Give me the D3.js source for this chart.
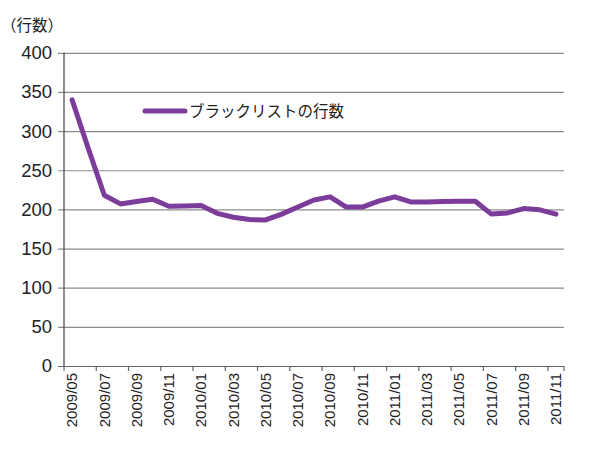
<!DOCTYPE html>
<html>
<head>
<meta charset="utf-8">
<script src="https://cdn.jsdelivr.net/npm/d3@7"></script>
<style>
  body { margin: 0; background: #fff; }
  svg { display: block; }
  .axis text { font-family: "Liberation Sans", Arial, sans-serif; fill: #222; }
</style>
</head>
<body>
<div id="chart"></div>
<script>
// months, 2009/05 .. 2011/11
const months = [
  '2009/05', '2009/06', '2009/07', '2009/08', '2009/09', '2009/10', '2009/11', '2009/12',
  '2010/01', '2010/02', '2010/03', '2010/04', '2010/05', '2010/06', '2010/07', '2010/08',
  '2010/09', '2010/10', '2010/11', '2010/12', '2011/01', '2011/02', '2011/03', '2011/04',
  '2011/05', '2011/06', '2011/07', '2011/08', '2011/09', '2011/10', '2011/11'
];
const blacklistRows = [
  340, 278, 218, 207, 210, 213, 204, 204.5, 205, 195, 190, 187, 186.5, 194, 203, 212,
  216, 203, 203, 210.5, 216, 209.5, 209.5, 210, 210.5, 210.5, 194, 195.5, 201, 199.5, 194
];
const yTicks = [0, 50, 100, 150, 200, 250, 300, 350, 400];
const seriesName = 'ブラックリストの行数';
const yUnit = '（行数）';

const width = 600;
const height = 450;
const margin = { top: 52.8, right: 36, bottom: 84, left: 64 };

const svg = d3.select('#chart').append('svg')
  .attr('width', width)
  .attr('height', height);

const x = d3.scaleBand()
  .domain(months)
  .range([margin.left, width - margin.right])
  .padding(0);

const y = d3.scaleLinear()
  .domain([0, 400])
  .range([height - margin.bottom, margin.top]);

// gridlines + y labels
const yAxis = svg.append('g')
  .attr('class', 'axis y')
  .attr('transform', `translate(${margin.left},0)`)
  .call(d3.axisLeft(y)
    .tickValues(yTicks)
    .tickSize(-(width - margin.right - margin.left))
    .tickSizeOuter(0)
    .tickPadding(12));
yAxis.select('.domain').remove();
yAxis.selectAll('.tick line')
  .attr('x1', -6)
  .attr('stroke', d => d === 0 ? '#666' : '#8c8c8c')
  .attr('stroke-width', 1.2);
yAxis.selectAll('.tick text')
  .attr('font-size', 18.5);

// y axis line
svg.append('line')
  .attr('x1', margin.left).attr('x2', margin.left)
  .attr('y1', y(400)).attr('y2', y(0))
  .attr('stroke', '#444')
  .attr('stroke-width', 1.2);

// x labels at category centres (every other month)
const xAxis = svg.append('g')
  .attr('class', 'axis x')
  .attr('transform', `translate(0,${y(0)})`)
  .call(d3.axisBottom(x)
    .tickValues(months.filter((d, i) => i % 2 === 0))
    .tickSize(0)
    .tickSizeOuter(0));
xAxis.select('.domain').remove();
xAxis.selectAll('.tick text')
  .attr('font-size', 15)
  .attr('transform', 'rotate(-90)')
  .attr('text-anchor', 'end')
  .attr('x', -7)
  .attr('y', 0)
  .attr('dy', '0.35em');

// x tick marks on category boundaries
const boundaries = months.filter((d, i) => i % 2 === 0).map(d => x(d));
boundaries.push(x.range()[1]);
svg.append('g')
  .selectAll('line')
  .data(boundaries)
  .enter().append('line')
    .attr('x1', d => d).attr('x2', d => d)
    .attr('y1', y(0)).attr('y2', y(0) + 5)
    .attr('stroke', '#666')
    .attr('stroke-width', 1.2);

// unit label
svg.append('text')
  .attr('x', 1)
  .attr('y', 31)
  .attr('font-family', '"Noto Sans CJK JP", sans-serif')
  .attr('font-size', 15.5)
  .attr('fill', '#222')
  .text(yUnit);

// series line
const line = d3.line()
  .x((d, i) => x(months[i]) + x.bandwidth() / 2)
  .y(d => y(d));

svg.append('path')
  .datum(blacklistRows)
  .attr('fill', 'none')
  .attr('stroke', '#7b3c9a')
  .attr('stroke-width', 5)
  .attr('stroke-linejoin', 'round')
  .attr('stroke-linecap', 'round')
  .attr('d', line);

// legend
const legend = svg.append('g').attr('transform', 'translate(145,111)');
legend.append('line')
  .attr('x1', 0).attr('x2', 40)
  .attr('stroke', '#7b3c9a')
  .attr('stroke-width', 5)
  .attr('stroke-linecap', 'round');
legend.append('text')
  .attr('x', 44)
  .attr('dy', '0.36em')
  .attr('font-family', '"Noto Sans CJK JP", sans-serif')
  .attr('font-size', 15.5)
  .attr('fill', '#222')
  .text(seriesName);
</script>
</body>
</html>
